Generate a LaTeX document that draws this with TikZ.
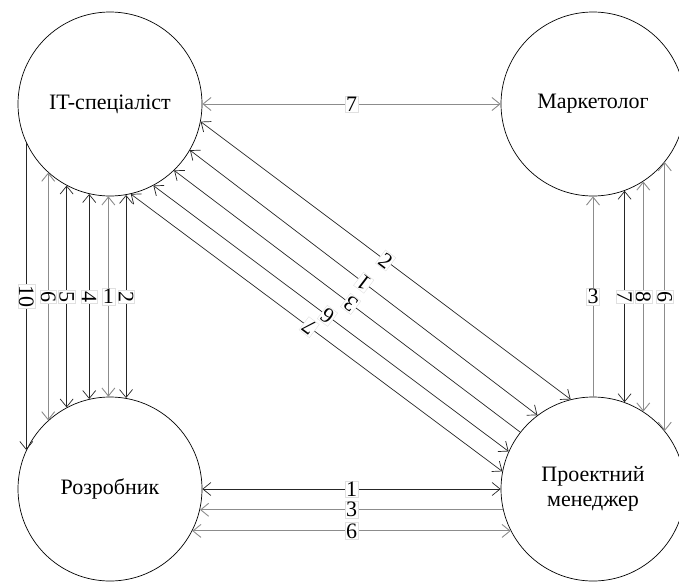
\documentclass[tikz,border=0pt]{standalone}
\usepackage{fontspec}
\setmainfont{Liberation Serif}
\usetikzlibrary{arrows.meta}

\tikzset{
  role/.style={circle, draw, minimum size=184pt, inner sep=0pt, line width=0.7pt,
    font=\fontsize{22}{25}\selectfont, align=center},
  flow/.style={line width=0.7pt, >={Straight Barb[length=8pt,width=13pt]}},
  grayflow/.style={flow, draw=black!45, line width=0.9pt},
  darkflow/.style={flow, draw=black!85},
  num/.style={fill=white, draw=black!12, line width=0.4pt, inner sep=1pt,
    font=\fontsize{22}{22}\selectfont, text=black},
}

\begin{document}
\begin{tikzpicture}[x=1pt, y=-1pt]
        \useasboundingbox (0,0) rectangle (679,581);

        % Roles
        \node[role] (it) at (110,104) {IT-спеціаліст};
        \node[role] (mark) at (593,104) {Маркетолог};
        \node[role] (dev) at (110,489) {Розробник};
        \node[role] (pm) at (593,489) {Проектний\\менеджер};

        % Top and bottom flows
        \draw[grayflow,<->] (it.east) -- node[num] {7} (mark.west);
        \draw[darkflow,<->] (dev.-0.5) -- node[num] {1} (pm.180.5);
        \draw[grayflow,<-] (dev.-13.5) -- node[num] {3} (pm.193.5);
        \draw[grayflow,<->] (dev.-27.9) -- node[num] {6} (pm.207.9);

        % IT-specialist <-> developer
        \draw[darkflow,->] (it.-155.9) -- node[num,rotate=-90] {10} (dev.155.9);
        \draw[grayflow,<->] (it.-132.4) -- node[num,rotate=-90] {6} (dev.132.4);
        \draw[darkflow,<->] (it.-118.6) -- node[num,rotate=-90] {5} (dev.118.6);
        \draw[darkflow,<->] (it.-103.8) -- node[num,rotate=-90] {4} (dev.103.8);
        \draw[grayflow,<->] (it.-91.2) -- node[num] {1} (dev.91.2);
        \draw[darkflow,<->] (it.-80.6) -- node[num,rotate=-90] {2} (dev.80.6);

        % Marketer <-> project manager
        \draw[grayflow,<-] (mark.-90) -- node[num] {3} (pm.90);
        \draw[darkflow,<->] (mark.-70.3) -- node[num,rotate=-90] {7} (pm.70.3);
        \draw[grayflow,<->] (mark.-57.1) -- node[num,rotate=-90] {8} (pm.57.1);
        \draw[grayflow,<->] (mark.-39.5) -- node[num,rotate=-90] {6} (pm.39.5);

        % IT-specialist <-> project manager
        \draw[darkflow,<->] (it.-11.5) -- node[num,sloped] {2} (pm.104);
        \draw[darkflow,<->] (pm.127.1) -- node[num,sloped,allow upside down] {1} (it.-30.6);
        \draw[darkflow,->] (pm.142) -- node[num,sloped,allow upside down,pos=0.49] {3} (it.-46.7);
        \draw[darkflow,<->] (pm.156.7) -- node[num,sloped,allow upside down,pos=0.51] {6} (it.-62.9);
        \draw[darkflow,<->] (pm.169.6) -- node[num,sloped,allow upside down,pos=0.52] {7} (it.-77.6);
\end{tikzpicture}
\end{document}
